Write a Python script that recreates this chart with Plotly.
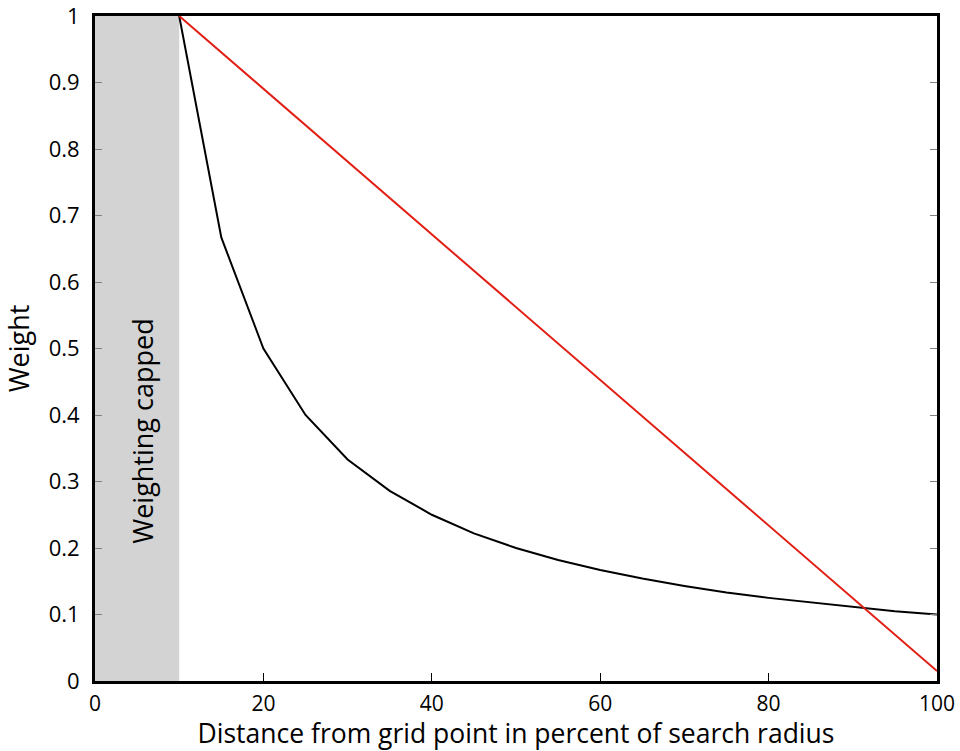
import plotly.graph_objects as go

# Data
dist = [10, 15, 20, 25, 30, 35, 40, 45, 50, 55, 60, 65, 70, 75, 80, 85, 90, 95, 100]
weight_inv = [1.0, 0.667, 0.5, 0.4, 0.333, 0.286, 0.25, 0.222, 0.2, 0.182, 0.167,
              0.154, 0.143, 0.133, 0.125, 0.118, 0.111, 0.105, 0.1]
lin_x = [10, 100]
lin_y = [1.0, 0.015]
cap_range = [0, 10]
x_ticks = [0, 20, 40, 60, 80, 100]
y_ticks = [0, 0.1, 0.2, 0.3, 0.4, 0.5, 0.6, 0.7, 0.8, 0.9, 1]
y_tick_labels = ["0", "0.1", "0.2", "0.3", "0.4", "0.5", "0.6", "0.7", "0.8", "0.9", "1"]

FONT = "Open Sans, Liberation Sans, sans-serif"

fig = go.Figure()
fig.add_shape(type="rect", xref="x", yref="y", x0=cap_range[0], x1=cap_range[1], y0=0, y1=1,
              fillcolor="rgb(211,211,211)", line=dict(width=0), layer="below")
fig.add_trace(go.Scatter(x=dist, y=weight_inv, mode="lines",
                         line=dict(color="black", width=2), showlegend=False))
fig.add_trace(go.Scatter(x=lin_x, y=lin_y, mode="lines",
                         line=dict(color="rgb(225,30,20)", width=2), showlegend=False))
fig.add_annotation(x=5.6, y=0.375, xref="x", yref="y", text="Weighting capped", textangle=-90,
                   showarrow=False, font=dict(family=FONT, size=27, color="black"))

fig.update_layout(
    width=960, height=751,
    margin=dict(l=95, r=23, t=16, b=70),
    plot_bgcolor="white", paper_bgcolor="white",
    font=dict(family=FONT, size=21, color="black"),
)
fig.update_xaxes(range=[0, 100], tickvals=x_ticks, ticks="inside", ticklen=8, tickcolor="black",
                 showline=True, linecolor="black", linewidth=3, mirror=True, showgrid=False,
                 zeroline=False, automargin=False, ticklabelstandoff=2, ticklabeloverflow="allow",
                 title=dict(text="Distance from grid point in percent of search radius",
                            font=dict(size=26.5), standoff=4),
                 tickfont=dict(size=21))
fig.update_yaxes(range=[0, 1], tickvals=y_ticks, ticktext=y_tick_labels, ticks="inside", ticklen=7,
                 tickcolor="gray", showline=True, linecolor="black", linewidth=3, mirror="ticks",
                 showgrid=False, zeroline=False, automargin=False, ticklabelstandoff=8,
                 ticklabeloverflow="allow",
                 title=dict(text="Weight", font=dict(size=27), standoff=13),
                 tickfont=dict(size=22))

fig.write_html("out.html", config={"displayModeBar": False},
               post_script="document.body.style.margin='0px';document.body.style.overflow='hidden';")
